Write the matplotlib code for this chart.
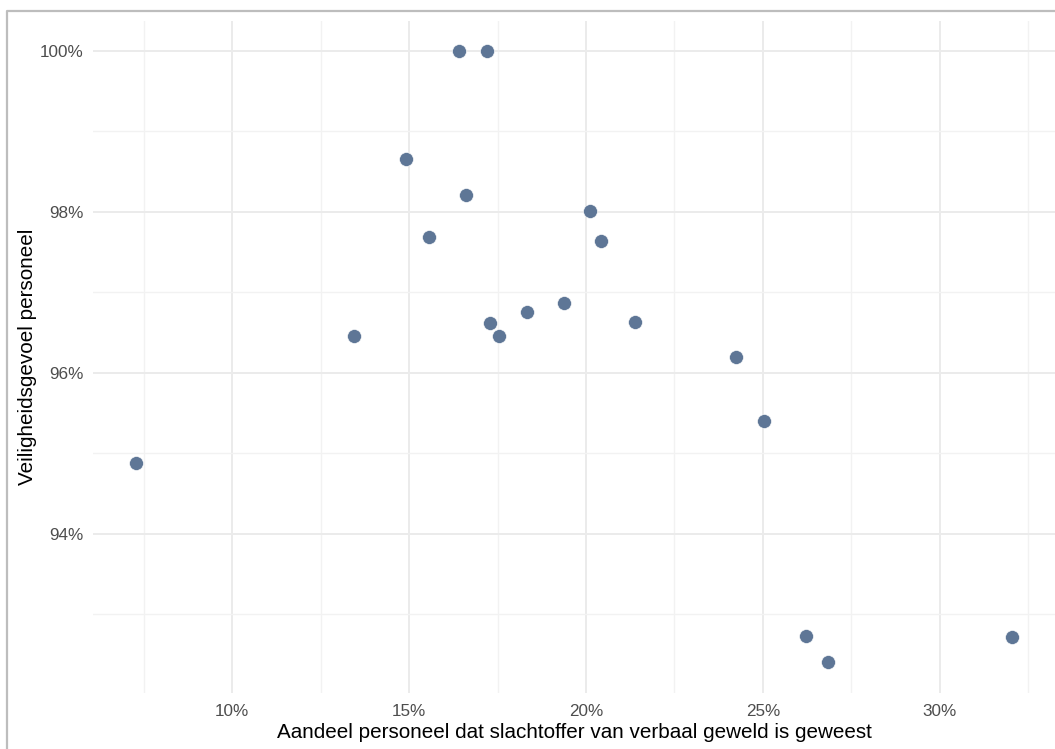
import matplotlib.pyplot as plt
from matplotlib.lines import Line2D
from matplotlib.ticker import FuncFormatter, MultipleLocator

# verbaal geweld (%) vs veiligheidsgevoel (%)
verbaal = [7.29, 13.45, 14.92, 15.56, 16.41, 16.61, 17.20, 17.29, 17.54, 18.33,
           19.38, 20.11, 20.42, 21.38, 24.24, 25.03, 26.21, 26.84, 32.03]
veilig = [94.88, 96.46, 98.66, 97.68, 100.0, 98.21, 100.0, 96.62, 96.46, 96.76,
          96.86, 98.01, 97.64, 96.63, 96.20, 95.40, 92.73, 92.40, 92.71]

x_ticks = [10, 15, 20, 25, 30]
y_ticks = [94, 96, 98, 100]

plt.rcParams['font.family'] = ['Liberation Sans', 'DejaVu Sans']

fig = plt.figure(figsize=(10.55, 7.49), dpi=100)
ax = fig.add_axes([93 / 1055, 1 - 693 / 749, (1056 - 93) / 1055, (693 - 21) / 749])

ax.scatter(verbaal, veilig, s=100, color='#5e7696', edgecolor='white',
           linewidth=0.4, zorder=3)

ax.set_xlim(6.07, 33.28)
ax.set_ylim(92.02, 100.37)
ax.set_xticks(x_ticks)
ax.set_yticks(y_ticks)
ax.xaxis.set_minor_locator(MultipleLocator(2.5))
ax.yaxis.set_minor_locator(MultipleLocator(1))
ax.xaxis.set_major_formatter(FuncFormatter(lambda v, p: f"{v:.0f}%"))
ax.yaxis.set_major_formatter(FuncFormatter(lambda v, p: f"{v:.0f}%"))

ax.grid(which='major', color='#ebebeb', linewidth=1.4)
ax.grid(which='minor', color='#f2f2f2', linewidth=1.0)
ax.set_axisbelow(True)
for s in ax.spines.values():
    s.set_visible(False)
ax.tick_params(which='both', length=0, labelsize=12.3, labelcolor='#4d4d4d')
ax.tick_params(axis='x', pad=8)
ax.tick_params(axis='y', pad=7)

ax.set_xlabel("Aandeel personeel dat slachtoffer van verbaal geweld is geweest",
              fontsize=14.9, color='black', labelpad=3)
ax.set_ylabel("Veiligheidsgevoel personeel", fontsize=14.9, color='black', labelpad=2)

# grey frame (top and left visible)
fig.add_artist(Line2D([7 / 1055, 7 / 1055, 1.0], [0.0, 1 - 11 / 749, 1 - 11 / 749],
                      transform=fig.transFigure, color='#bdbdbd', linewidth=1.6))

fig.savefig('out.png', dpi=100)
